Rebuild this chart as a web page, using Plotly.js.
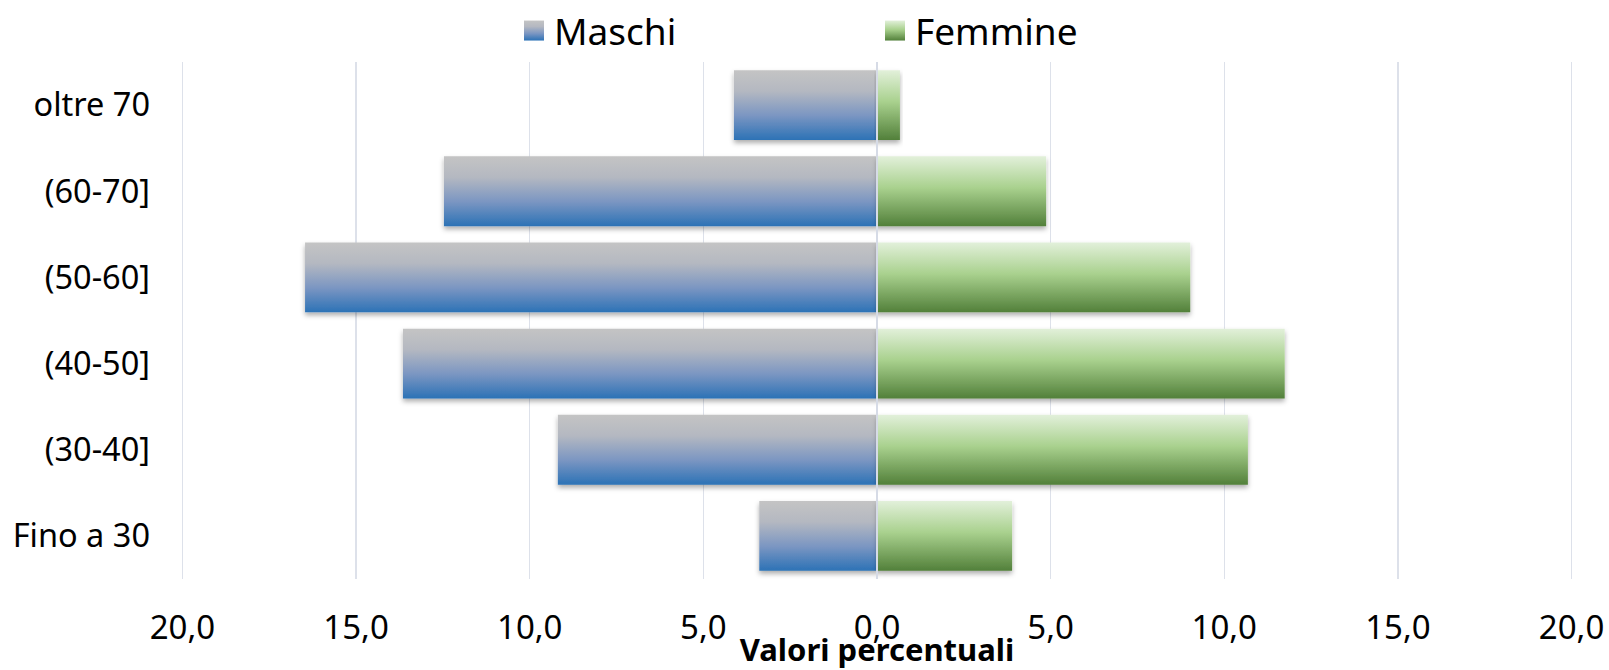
<!DOCTYPE html>
<html>
<head>
<meta charset="utf-8">
<script src="https://cdn.plot.ly/plotly-3.0.1.min.js"></script>
<style>
  html, body { margin: 0; padding: 0; background: #ffffff; }
  #chart { width: 1609px; height: 670px; }
</style>
</head>
<body>
<div id="chart"></div>
<script>
const categories = ['Fino a 30', '(30-40]', '(40-50]', '(50-60]', '(60-70]', 'oltre 70'];
const maschi = [3.39, 9.19, 13.65, 16.47, 12.47, 4.12];
const femmine = [3.89, 10.68, 11.74, 9.02, 4.87, 0.66];
const tickValues = [-20, -15, -10, -5, 0, 5, 10, 15, 20];
const tickLabels = ['20,0', '15,0', '10,0', '5,0', '0,0', '5,0', '10,0', '15,0', '20,0'];
const seriesNames = ['Maschi', 'Femmine'];

const FONT = 'Noto Sans, Open Sans, Liberation Sans, sans-serif';

const traces = [
  {
    type: 'bar', orientation: 'h', name: seriesNames[0],
    y: categories, x: maschi.map(v => -v),
    marker: { color: '#2e74b6', line: { width: 0 } },
    hoverinfo: 'skip'
  },
  {
    type: 'bar', orientation: 'h', name: seriesNames[1],
    y: categories, x: femmine,
    marker: { color: '#548235', line: { width: 0 } },
    hoverinfo: 'skip'
  }
];

const layout = {
  width: 1609, height: 670,
  margin: { l: 179, r: 34, t: 61, b: 91, pad: 0 },
  paper_bgcolor: '#ffffff', plot_bgcolor: '#ffffff',
  barmode: 'relative', bargap: 0.19,
  font: { family: FONT, color: '#000000' },
  showlegend: true,
  legend: {
    orientation: 'h', traceorder: 'normal',
    xref: 'container', yref: 'container',
    x: 514 / 1609, xanchor: 'left',
    y: 1 - 31 / 670, yanchor: 'middle',
    entrywidth: 316, entrywidthmode: 'pixels',
    font: { family: FONT, size: 37, color: '#000000' },
    bgcolor: 'rgba(0,0,0,0)', borderwidth: 0
  },
  xaxis: {
    range: [-20.1, 20.1], fixedrange: true,
    tickmode: 'array', tickvals: tickValues, ticktext: tickLabels,
    showgrid: true, gridcolor: '#dde1ea', gridwidth: 1.5,
    zeroline: true, zerolinecolor: '#d6dbe6', zerolinewidth: 2,
    zerolinelayer: 'above traces',
    showline: false, ticks: '',
    ticklabelstandoff: 26,
    tickfont: { family: FONT, size: 33, color: '#000000' },
    title: { text: '<b>Valori percentuali</b>', standoff: 9,
             font: { family: FONT, size: 31, color: '#000000' } }
  },
  yaxis: {
    type: 'category', fixedrange: true,
    showgrid: false, zeroline: false, showline: false, ticks: '',
    ticklabelstandoff: 28,
    tickfont: { family: FONT, size: 32.5, color: '#000000' }
  }
};

function addDefs(gd) {
  const svg = gd.querySelector('svg.main-svg');
  const ns = 'http://www.w3.org/2000/svg';
  let defs = svg.querySelector('defs');
  if (!defs) { defs = document.createElementNS(ns, 'defs'); svg.insertBefore(defs, svg.firstChild); }
  function grad(id, stops) {
    const g = document.createElementNS(ns, 'linearGradient');
    g.setAttribute('id', id);
    g.setAttribute('x1', '0'); g.setAttribute('y1', '0');
    g.setAttribute('x2', '0'); g.setAttribute('y2', '1');
    stops.forEach(s => {
      const st = document.createElementNS(ns, 'stop');
      st.setAttribute('offset', s[0]);
      st.setAttribute('stop-color', s[1]);
      g.appendChild(st);
    });
    defs.appendChild(g);
  }
  grad('gradM', [['0', '#c4c4c4'], ['0.3', '#b4b8c1'], ['0.65', '#7b96c2'], ['1', '#2c72b6']]);
  grad('gradF', [['0', '#e2f0da'], ['0.45', '#a9d18e'], ['1', '#52803a']]);
  const f = document.createElementNS(ns, 'filter');
  f.setAttribute('id', 'barShadow');
  f.setAttribute('x', '-10%'); f.setAttribute('y', '-20%');
  f.setAttribute('width', '120%'); f.setAttribute('height', '150%');
  const ds = document.createElementNS(ns, 'feDropShadow');
  ds.setAttribute('dx', '0'); ds.setAttribute('dy', '3');
  ds.setAttribute('stdDeviation', '2.5');
  ds.setAttribute('flood-color', '#000000'); ds.setAttribute('flood-opacity', '0.32');
  f.appendChild(ds);
  defs.appendChild(f);
}

function styleChart(gd) {
  addDefs(gd);
  const gradIds = ['gradM', 'gradF'];
  gd.querySelectorAll('.barlayer .trace').forEach((tr, i) => {
    tr.querySelectorAll('path').forEach(p => {
      p.style.fill = 'url(#' + gradIds[i] + ')';
      p.style.filter = 'url(#barShadow)';
    });
  });
  gd.querySelectorAll('.legend .traces').forEach((tr, i) => {
    tr.querySelectorAll('.legendpoints path').forEach(p => {
      p.setAttribute('d', 'M10,10H-10V-10H10Z');
      p.style.fill = 'url(#' + gradIds[i] + ')';
      p.style.stroke = 'none';
    });
  });
}

const gd = document.getElementById('chart');
Plotly.newPlot(gd, traces, layout, { staticPlot: true, displayModeBar: false })
  .then(() => styleChart(gd));
</script>
</body>
</html>
